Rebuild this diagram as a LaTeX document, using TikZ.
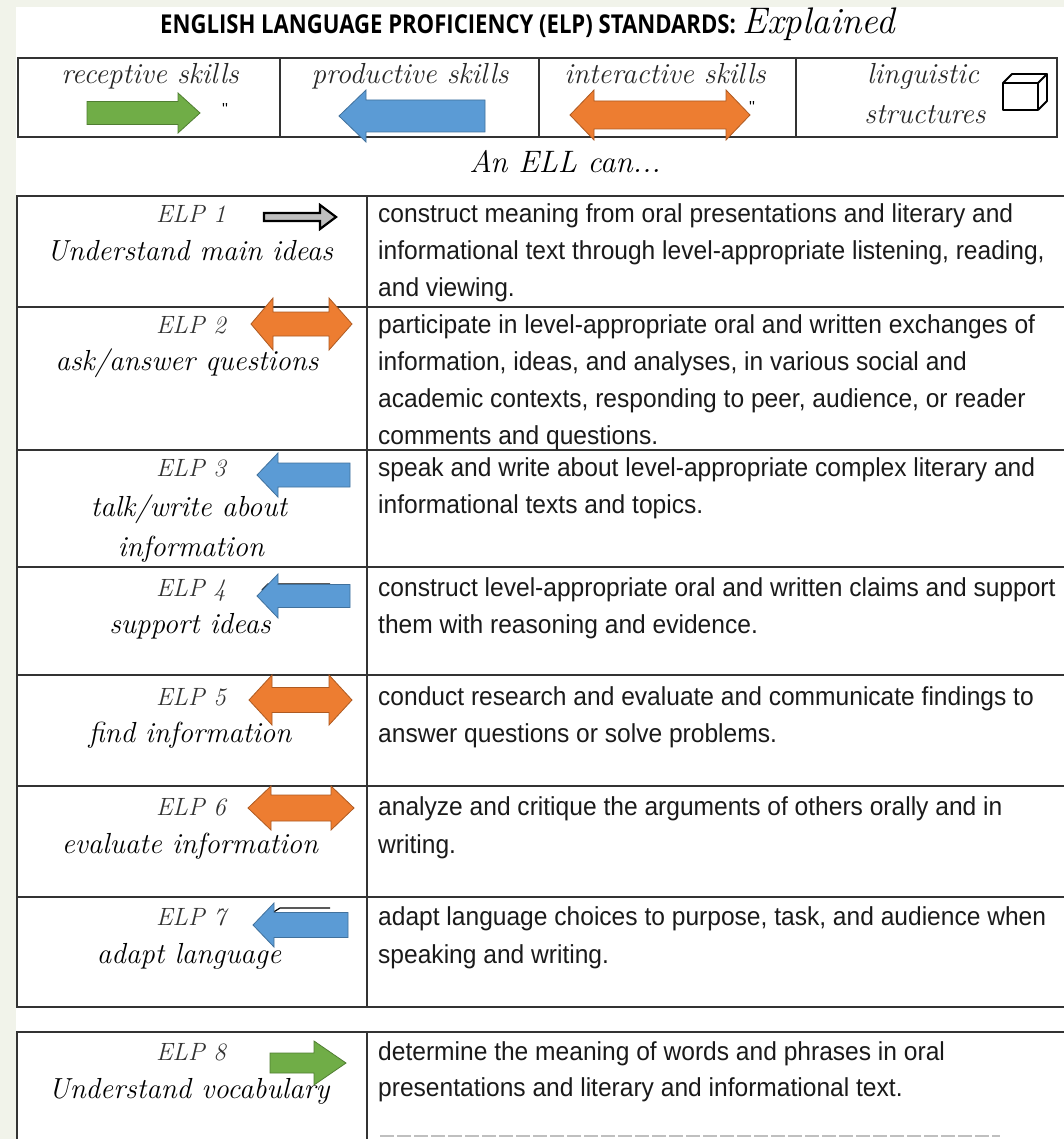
\documentclass[tikz,border=0pt]{standalone}
\usepackage{fontspec}
\newfontfamily\bodyfont[FakeStretch=0.945]{Liberation Sans}
\newfontfamily\titlefont[FakeStretch=0.85]{Open Sans}
\newcommand\handfont{\normalfont\itshape}
\definecolor{pagebg}{HTML}{F1F3EA}
\definecolor{linec}{HTML}{333333}
\definecolor{txtc}{HTML}{1A1A1A}
\definecolor{agreen}{HTML}{70AD47}
\definecolor{agreenE}{HTML}{507E32}
\definecolor{ablue}{HTML}{5B9BD5}
\definecolor{ablueE}{HTML}{41719C}
\definecolor{aorange}{HTML}{ED7D31}
\definecolor{aorangeE}{HTML}{AE5A21}

% right arrow: style, tail x, head base x, tip x, centre y, shaft half, head half
\newcommand\arrR[7]{\filldraw[#1] (#2,#5-#6) -- (#3,#5-#6) -- (#3,#5-#7) -- (#4,#5)
  -- (#3,#5+#7) -- (#3,#5+#6) -- (#2,#5+#6) -- cycle;}
% left arrow: style, tip x, head base x, tail x, centre y, shaft half, head half
\newcommand\arrL[7]{\filldraw[#1] (#4,#5-#6) -- (#3,#5-#6) -- (#3,#5-#7) -- (#2,#5)
  -- (#3,#5+#7) -- (#3,#5+#6) -- (#4,#5+#6) -- cycle;}
% double arrow: style, left tip, left base, right base, right tip, centre y, shaft half, head half
\newcommand\arrD[8]{\filldraw[#1] (#2,#6) -- (#3,#6-#8) -- (#3,#6-#7) -- (#4,#6-#7)
  -- (#4,#6-#8) -- (#5,#6) -- (#4,#6+#8) -- (#4,#6+#7) -- (#3,#6+#7) -- (#3,#6+#8) -- cycle;}

\begin{document}
\begin{tikzpicture}[x=1pt,y=-1pt,
  rule/.style={line width=1.6pt, draw=linec},
  body/.style={anchor=base west, inner sep=0pt, text=txtc,
    font=\bodyfont\fontsize{26}{30}\selectfont},
  hand/.style={anchor=base, inner sep=0pt, text=black,
    font=\handfont\fontsize{29}{34}\selectfont},
  head/.style={anchor=base, inner sep=0pt, text=black!85,
    font=\handfont\fontsize{29}{32}\selectfont},
  elp/.style={anchor=base, inner sep=0pt, text=black!80,
    font=\handfont\fontsize{25}{28}\selectfont},
  tickmark/.style={anchor=base, inner sep=0pt, text=black,
    font=\bodyfont\fontsize{16}{18}\selectfont},
  greenar/.style={fill=agreen, draw=agreenE, line width=0.8pt},
  bluear/.style={fill=ablue, draw=ablueE, line width=0.8pt},
  orangear/.style={fill=aorange, draw=aorangeE, line width=0.8pt},
  outlinear/.style={fill=black!25, draw=black, line width=2.2pt},
]
\useasboundingbox (0,0) rectangle (1064,1139);
\fill[pagebg] (0,0) rectangle (1064,1139);
\fill[white] (16,7) rectangle (1064,1139);

% heading
\node[anchor=base west, inner sep=0pt] (title) at (160,34)
  {\titlefont\bfseries\fontsize{26}{30}\selectfont ENGLISH LANGUAGE PROFICIENCY (ELP) STANDARDS:
   \handfont\fontsize{37}{40}\selectfont\kern1pt Explained};

% skills legend
\draw[rule] (18,58) rectangle (1057,137);
\draw[rule] (280,58) -- (280,137) (539,58) -- (539,137) (796,58) -- (796,137);
\node[head] (rec) at (150,84) {receptive skills};
\node[head] (pro) at (410,84) {productive skills};
\node[head] (int) at (665,84) {interactive skills};
\node[head] (lin) at (923,84) {linguistic};
\node[head] (str) at (925,124) {structures};
\arrR{greenar}{87}{178}{200}{113}{11.5}{20}
\node[tickmark] (m1) at (225,115) {''};
\arrL{bluear}{339}{366}{485}{116}{16}{26}
\node[tickmark] (m2) at (752,113) {''};
\arrD{orangear}{570}{594}{726}{750}{115}{14}{25}
% box icon
\begin{scope}[line width=1.8pt, draw=black, line join=round]
  \draw (1003,83) rectangle (1038,110);
  \draw (1003,83) -- (1012,74) -- (1047,74) -- (1038,83);
  \draw (1038,110) -- (1047,101) -- (1047,74);
\end{scope}

\node[hand, font=\handfont\fontsize{31}{34}\selectfont] (ell) at (565,173) {An ELL can...};

% standards table (rows run on past the right edge)
\draw[rule] (1064,196) -- (17,196) -- (17,1007) -- (1064,1007);
\draw[rule] (367,196) -- (367,1007);
\foreach \yy in {307,450,567,675,786,897} \draw[rule] (17,\yy) -- (1064,\yy);

% ELP 8 table
\draw[rule] (17,1139) -- (17,1032) -- (1064,1032);
\draw[rule] (367,1032) -- (367,1139);
\draw[black!25, line width=1.2pt, dash pattern=on 14pt off 3pt] (380,1136) -- (1000,1136);

% left column: labels, names and arrows
\node[elp] (e1) at (191,223) {ELP 1};
\node[hand] (n1) at (190,261) {Understand main ideas};
\arrR{outlinear}{264}{320}{336}{217}{4}{12}

\node[elp] (e2) at (191,333) {ELP 2};
\node[hand] (n2) at (187,370) {ask/answer questions};
\arrD{orangear}{251}{273}{329}{352}{324}{12}{26}

\node[elp] (e3) at (191,476) {ELP 3};
\node[hand] (n3a) at (189,516) {talk/write about};
\node[hand] (n3b) at (191,556) {information};
\arrL{bluear}{257}{278}{350}{475}{12}{22}

\node[elp] (e4) at (191,596) {ELP 4};
\node[hand] (n4) at (190,633) {support ideas};
\draw[black, line width=1.2pt] (262,590) -- (268,584) -- (330,584);
\arrL{bluear}{257}{278}{350}{596}{11.5}{22}

\node[elp] (e5) at (191,705) {ELP 5};
\node[hand] (n5) at (190,742) {find information};
\arrD{orangear}{249}{272}{329}{352}{700}{12.5}{25}

\node[elp] (e6) at (191,815) {ELP 6};
\node[hand] (n6) at (190,853) {evaluate information};
\arrD{orangear}{248}{271}{331}{354}{808}{13}{22}

\node[elp] (e7) at (191,925) {ELP 7};
\node[hand] (n7) at (189,963) {adapt language};
\draw[black, line width=1.2pt] (272,913) -- (280,908) -- (330,908);
\arrL{bluear}{253}{274}{348}{925}{12.5}{22}

\node[elp] (e8) at (191,1060) {ELP 8};
\node[hand] (n8) at (189,1098) {Understand vocabulary};
\arrR{greenar}{270}{314}{346}{1063}{10}{22}

% right column: descriptions
\node[body] (d1a) at (378,223) {construct meaning from oral presentations and literary and};
\node[body] (d1b) at (378,260) {informational text through level-appropriate listening, reading,};
\node[body] (d1c) at (378,297) {and viewing.};
\node[body] (d2a) at (378,333) {participate in level-appropriate oral and written exchanges of};
\node[body] (d2b) at (378,370) {information, ideas, and analyses, in various social and};
\node[body] (d2c) at (378,407) {academic contexts, responding to peer, audience, or reader};
\node[body] (d2d) at (378,444) {comments and questions.};
\node[body] (d3a) at (378,476) {speak and write about level-appropriate complex literary and};
\node[body] (d3b) at (378,513) {informational texts and topics.};
\node[body] (d4a) at (378,596) {construct level-appropriate oral and written claims and support};
\node[body] (d4b) at (378,633) {them with reasoning and evidence.};
\node[body] (d5a) at (378,705) {conduct research and evaluate and communicate findings to};
\node[body] (d5b) at (378,742) {answer questions or solve problems.};
\node[body] (d6a) at (378,815) {analyze and critique the arguments of others orally and in};
\node[body] (d6b) at (378,853) {writing.};
\node[body] (d7a) at (378,925) {adapt language choices to purpose, task, and audience when};
\node[body] (d7b) at (378,963) {speaking and writing.};
\node[body] (d8a) at (378,1060) {determine the meaning of words and phrases in oral};
\node[body] (d8b) at (378,1096) {presentations and literary and informational text.};
\end{tikzpicture}
\end{document}
